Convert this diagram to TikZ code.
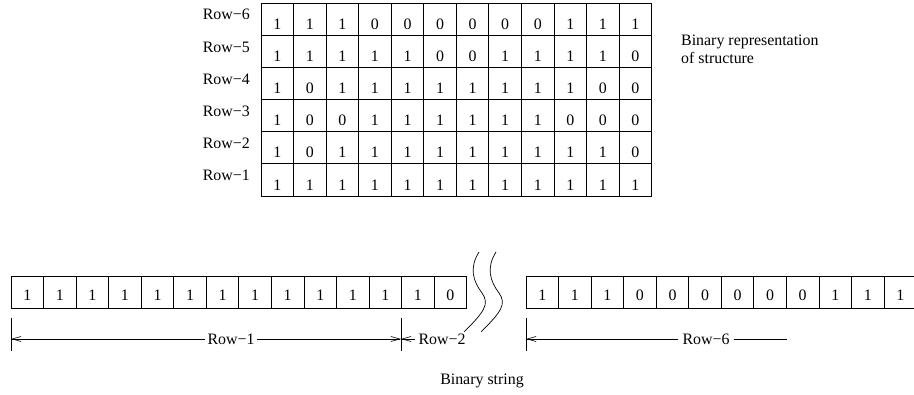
\documentclass[tikz,border=0pt]{standalone}
\usepackage{fontspec}
\setmainfont{Liberation Serif}
\usetikzlibrary{arrows.meta}
\begin{document}
\begin{tikzpicture}[x=1pt,y=-1pt,
  every node/.style={font=\fontsize{15.9}{18}\selectfont},
  gcell/.style={draw, line width=0.9pt, outer sep=0pt, minimum width=32.56pt, minimum height=32.12pt, inner sep=0pt, anchor=north west},
  scell/.style={draw, line width=0.9pt, outer sep=0pt, minimum width=32.55pt, minimum height=32.2pt, inner sep=0pt, anchor=north west},
  digit/.style={inner sep=0pt, anchor=base},
  rowlab/.style={inner sep=0pt, anchor=base east},
  dimlab/.style={inner sep=0pt, anchor=center},
  tick/.style={line width=0.7pt},
  dimline/.style={line width=0.6pt},
  dimarrow/.style={line width=0.6pt, -{Straight Barb[length=9pt,width=5pt]}},
  wave/.style={line width=0.7pt}
]
\useasboundingbox (0,0) rectangle (914,395);
\begin{scope}
\clip (0,0) rectangle (914,395);

% ---- binary representation grid ----
\foreach \r/\bits in {6/{1,1,1,0,0,0,0,0,0,1,1,1},
                      5/{1,1,1,1,1,0,0,1,1,1,1,0},
                      4/{1,0,1,1,1,1,1,1,1,1,0,0},
                      3/{1,0,0,1,1,1,1,1,1,0,0,0},
                      2/{1,0,1,1,1,1,1,1,1,1,1,0},
                      1/{1,1,1,1,1,1,1,1,1,1,1,1}}{
  \pgfmathsetmacro\top{3.3+(6-\r)*32.12}
  \node[rowlab] (lab\r) at (250,\top+16.7) {Row−\r};
  \foreach \b [count=\c] in \bits {
    \node[gcell] (g-\r-\c) at ({261+(\c-1)*32.56},\top) {};
    \node[digit, yshift=6pt] (gt-\r-\c) at (g-\r-\c.south) {\b};
  }
}

\node[inner sep=0pt, anchor=north west, align=left] (caption1) at (681,34.3)
  {Binary representation\\of structure};

% ---- binary string, left part ----
\foreach \b [count=\c] in {1,1,1,1,1,1,1,1,1,1,1,1,1,0} {
  \node[scell] (s-\c) at ({11+(\c-1)*32.55},276) {};
  \node[digit, yshift=8pt] (st-\c) at (s-\c.south) {\b};
}
% ---- binary string, right part ----
\foreach \b [count=\c] in {1,1,1,0,0,0,0,0,0,1,1,1} {
  \node[scell] (q-\c) at ({526+(\c-1)*32.55},276) {};
  \node[digit, yshift=8pt] (qt-\c) at (q-\c.south) {\b};
}

% ---- break marks ----
\draw[wave] (479,252) .. controls (469,268) and (473,281) .. (482,293)
            .. controls (490,304) and (484,312) .. (464,332);
\draw[wave] (496,252) .. controls (486,268) and (490,281) .. (499,293)
            .. controls (507,304) and (501,312) .. (481,332);

% ---- dimension ticks ----
\coordinate (k1a) at (11,318);  \coordinate (k1b) at (11,351);
\coordinate (k2a) at (401,318); \coordinate (k2b) at (401,351);
\coordinate (k3a) at (526,318); \coordinate (k3b) at (526,351);
\draw[tick] (k1a) -- (k1b);
\draw[tick] (k2a) -- (k2b);
\draw[tick] (k3a) -- (k3b);
\coordinate (d1) at (11,339);
\coordinate (d2) at (401,339);
\coordinate (d3) at (526,339);
\coordinate (d4) at (787,339);

\node[dimlab] (r1) at (231,339) {Row−1};
\node[dimlab] (r2) at (442,339) {Row−2};
\node[dimlab] (r6) at (706,339) {Row−6};

\draw[dimarrow] ([xshift=-2pt]r1.west) -- (d1);
\draw[dimarrow] ([xshift=2pt]r1.east) -- (d2);
\draw[dimarrow] ([xshift=-3pt]r2.west) -- (d2);
\draw[dimarrow] ([xshift=-4pt]r6.west) -- (d3);
\draw[dimline] ([xshift=4pt]r6.east) -- (d4);

\node[inner sep=0pt, anchor=base] (cap2) at (482,385) {Binary string};
\end{scope}
\end{tikzpicture}
\end{document}
